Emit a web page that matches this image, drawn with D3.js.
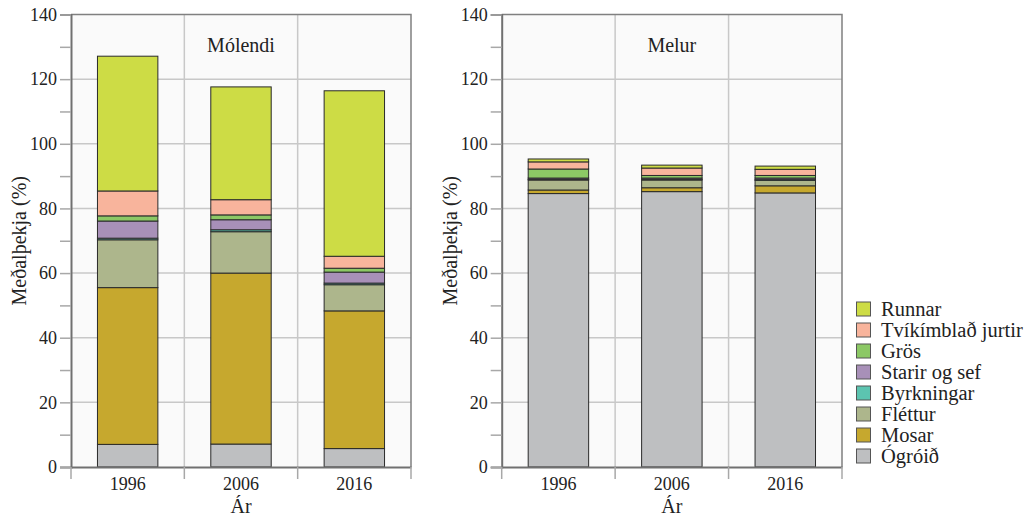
<!DOCTYPE html>
<html><head><meta charset="utf-8">
<script src="https://cdn.jsdelivr.net/npm/d3@7"></script>
<style>
body{margin:0;background:#fff;}
svg{display:block;}
text{font-family:"Liberation Serif","DejaVu Serif",serif;}
</style></head>
<body><svg id="c" width="1035" height="519"></svg>
<script>
const years = ["1996","2006","2016"];
const groups = ["Ógróið","Mosar","Fléttur","Byrkningar","Starir og sef","Grös","Tvíkímblað jurtir","Runnar"];
const colors = ["#bebfc1","#c6a82e","#adb68c","#5cc4b0","#a890b8","#8cc865","#f8b49c","#cddc45"];
const panels = ["Mólendi","Melur"];
// values per year, in group order
const molendi1996 = [7.0, 48.5, 14.8, 0.5, 5.3, 1.6, 7.7, 41.7];
const molendi2006 = [7.1, 52.9, 12.8, 0.6, 3.1, 1.5, 4.7, 34.9];
const molendi2016 = [5.7, 42.6, 8.1, 0.5, 3.4, 1.2, 3.7, 51.2];
const melur1996 = [84.6, 1.1, 3.1, 0.2, 0.4, 2.8, 2.2, 0.9];
const melur2006 = [85.2, 1.2, 2.4, 0.2, 0.4, 0.8, 2.3, 0.9];
const melur2016 = [84.8, 2.2, 1.7, 0.2, 0.5, 0.8, 1.9, 1.0];
const yTicks = [0,10,20,30,40,50,60,70,80,90,100,110,120,130,140];
const yTitle = "Meðalþekja (%)";
const xTitle = "Ár";

const panelData = [
  [molendi1996, molendi2006, molendi2016],
  [melur1996, melur2006, melur2016]
];

const FONT = "Liberation Serif, DejaVu Serif, serif";
const svg = d3.select("#c");
const plotTop = 14.5, plotBottom = 467;
const panelX = [[71, 411], [501.7, 842]];
const y = d3.scaleLinear().domain([0,140]).range([plotBottom, plotTop]);

panelX.forEach((px, pi) => {
  const g = svg.append("g");
  const x = d3.scaleBand().domain(years).range(px).padding(0);
  const bw = x.bandwidth() * 0.533;
  g.append("rect").attr("x", px[0]).attr("y", plotTop).attr("width", px[1]-px[0]).attr("height", plotBottom-plotTop).attr("fill", "#fafafa");
  g.selectAll(null).data(yTicks.filter(t => t % 20 === 0 && t > 0 && t < 140)).enter().append("line")
    .attr("x1", px[0]).attr("x2", px[1]).attr("y1", d => y(d)).attr("y2", d => y(d))
    .attr("stroke", "#c8c8c8").attr("stroke-width", 1.5);
  g.selectAll(null).data(years.slice(1)).enter().append("line")
    .attr("x1", d => x(d)).attr("x2", d => x(d)).attr("y1", plotTop).attr("y2", plotBottom)
    .attr("stroke", "#c8c8c8").attr("stroke-width", 1.5);
  const stackRows = years.map((yr, i) => {
    const o = {year: yr};
    groups.forEach((gname, j) => o[gname] = panelData[pi][i][j]);
    return o;
  });
  const series = d3.stack().keys(groups)(stackRows);
  series.forEach((s, si) => {
    g.selectAll(null).data(s).enter().append("rect")
      .attr("x", d => x(d.data.year) + (x.bandwidth() - bw) / 2)
      .attr("width", bw)
      .attr("y", d => y(d[1]))
      .attr("height", d => y(d[0]) - y(d[1]))
      .attr("fill", colors[si])
      .attr("stroke", "#2a2a2a").attr("stroke-width", 1);
  });
  g.append("path").attr("d", `M${px[0]},${plotTop}H${px[1]}V${plotBottom}`).attr("fill","none").attr("stroke","#808080").attr("stroke-width",1.5);
  const ya = d3.axisLeft(y).tickValues(yTicks).tickSize(11).tickPadding(3)
    .tickFormat(d => d % 20 === 0 ? d : "");
  const yg = g.append("g").attr("transform", `translate(${px[0]},0)`).call(ya).attr("font-family", FONT);
  yg.select(".domain").attr("stroke", "#707070").attr("stroke-width", 2);
  yg.selectAll(".tick line").attr("stroke", "#a8a8a8").attr("stroke-width", 1.5);
  yg.selectAll(".tick text").attr("font-size", 18).attr("fill", "#222").attr("font-family", FONT);
  const xa = d3.axisBottom(x).tickSize(0).tickPadding(10);
  const xg = g.append("g").attr("transform", `translate(0,${plotBottom})`).call(xa).attr("font-family", FONT);
  xg.select(".domain").attr("stroke", "#707070").attr("stroke-width", 2);
  xg.selectAll(".tick text").attr("font-size", 18).attr("fill", "#222").attr("font-family", FONT);
  g.selectAll(null).data([px[0], ...years.slice(1).map(d => x(d)), px[1]]).enter().append("line")
    .attr("x1", d => d).attr("x2", d => d).attr("y1", plotBottom).attr("y2", plotBottom + 12)
    .attr("stroke", "#a8a8a8").attr("stroke-width", 1.5);
  g.append("text").attr("x", x("2006") + x.bandwidth()/2).attr("y", 52).attr("text-anchor","middle")
    .attr("font-family", FONT).attr("font-size", 20).attr("fill","#222").text(panels[pi]);
  g.append("text").attr("x", (px[0]+px[1])/2).attr("y", 513).attr("text-anchor","middle")
    .attr("font-family", FONT).attr("font-size", 20).attr("fill","#222").text(xTitle);
  g.append("text").attr("transform", `translate(${px[0]-45},${(plotTop+plotBottom)/2}) rotate(-90)`).attr("text-anchor","middle")
    .attr("font-family", FONT).attr("font-size", 20).attr("fill","#222").text(yTitle);
});

const leg = svg.append("g");
const order = groups.slice().reverse();
const ocol = colors.slice().reverse();
order.forEach((name, i) => {
  const yy = 302 + i * 21;
  leg.append("rect").attr("x", 856.5).attr("y", yy).attr("width", 14).attr("height", 14)
    .attr("fill", ocol[i]).attr("stroke", "#555").attr("stroke-width", 1);
  leg.append("text").attr("x", 881).attr("y", yy + 13.5).attr("font-family", FONT).attr("font-size", 20.5).attr("fill", "#222").text(name);
});
</script></body></html>
